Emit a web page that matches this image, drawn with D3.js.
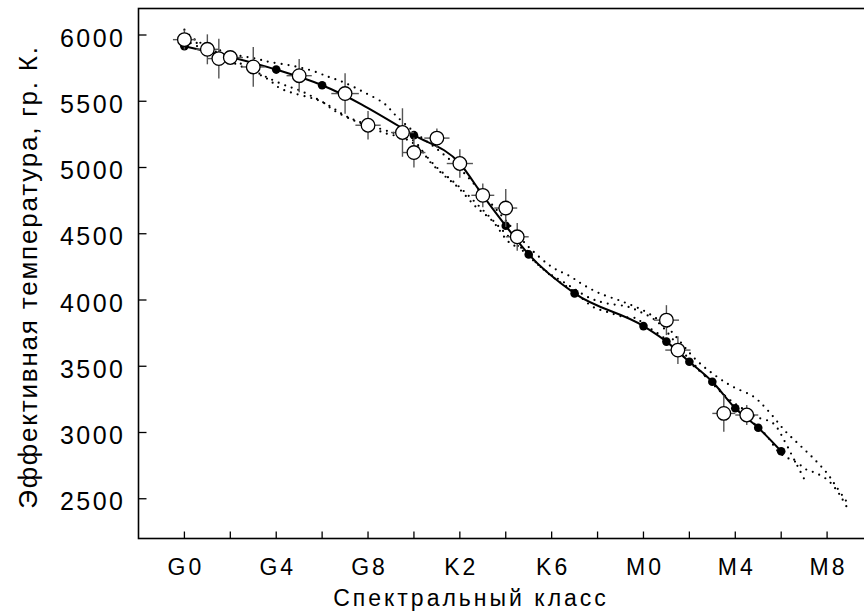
<!DOCTYPE html>
<html>
<head>
<meta charset="utf-8">
<script src="https://cdn.jsdelivr.net/npm/d3@7"></script>
<style>
  html, body { margin: 0; padding: 0; background: #fff; }
  svg { display: block; font-family: "Liberation Sans", Arial, sans-serif; }
</style>
</head>
<body>
<svg id="chart"></svg>
<script>
// spectral class ticks (units: G0 = 0, K0 = 10, M0 = 20)
const tickUnits = [0, 4, 8, 12, 16, 20, 24, 28];
const tickNames = ["G0", "G4", "G8", "K2", "K6", "M0", "M4", "M8"];
const tempTicks = [2500, 3000, 3500, 4000, 4500, 5000, 5500, 6000];

// filled dots on the solid curve
const dotX = [0, 4, 6, 10, 14, 15, 17, 20, 21, 22, 23, 24, 25, 26];
const dotT = [5915, 5739, 5621, 5244, 4560, 4344, 4050, 3803, 3686, 3534, 3383, 3183, 3036, 2858];

// solid curve knots
const curveX = [0, 4, 6, 10, 12, 13, 14, 15, 17, 20, 21, 22, 23, 24, 25, 26];
const curveT = [5915, 5739, 5621, 5244, 5030, 4790, 4560, 4344, 4050, 3803, 3686, 3534, 3383, 3183, 3036, 2858];

// open circles with error bars
const obsX = [0, 1, 1.5, 2, 3, 5, 7, 8, 9.5, 10, 11, 12, 13, 14, 14.5, 21, 21.5, 23.5, 24.5];
const obsT = [5965, 5892, 5822, 5830, 5759, 5693, 5558, 5319, 5264, 5113, 5222, 5030, 4790, 4694, 4477, 3848, 3622, 3144, 3132];
const obsErrT = [75, 113, 150, 40, 150, 125, 153, 107, 183, 113, 72, 107, 90, 143, 105, 113, 105, 138, 75];
const obsErrX = [0.5, 0.5, 0.5, 0.55, 0.5, 0.55, 0.6, 0.55, 0.5, 0.5, 0.55, 0.57, 0.5, 0.5, 0.5, 0.55, 0.55, 0.5, 0.5];

// dotted curves
const dotAX = [0, 0.5, 2, 3.1, 3.7, 4.6, 5.5, 6.3, 6.9, 7.8, 8.7, 9.2, 10, 11, 12, 13, 14, 15, 16, 16.8, 17.4, 18.1, 19.1, 20.1, 21, 22.3, 23.2, 23.9, 24.8, 25.4, 26.2, 26.8, 27.4, 28, 28.4, 28.85];
const dotAT = [6040, 5960, 5860, 5822, 5797, 5771, 5734, 5683, 5646, 5570, 5483, 5394, 5270, 5140, 4990, 4800, 4600, 4400, 4250, 4179, 4112, 4050, 3987, 3911, 3800, 3547, 3421, 3345, 3270, 3170, 3006, 2906, 2806, 2692, 2591, 2478];
const dotBX = [0, 1, 2, 2.7, 4.2, 5, 5.6, 6.4, 7.1, 8.5, 9.2, 10, 10.7, 11.3, 11.9, 12.7, 13.4, 14.2, 14.9, 15.35, 15.9, 16.5, 17.7, 18.4, 19.3, 19.85, 20.6, 21.9, 23.6, 24.2, 24.9, 25.65, 26.2, 26.5, 26.8, 27.1];
const dotBT = [5990, 5900, 5830, 5759, 5633, 5583, 5533, 5457, 5382, 5294, 5256, 5200, 5043, 4942, 4853, 4703, 4600, 4427, 4376, 4276, 4200, 4137, 4012, 3975, 3950, 3911, 3836, 3572, 3269, 3194, 3119, 3069, 2918, 2817, 2717, 2617];
const dotCX = [0, 2, 3.6, 4.2, 6, 6.5, 7.35, 7.9, 8.8, 9.4, 10, 11, 12, 13, 14, 15, 16, 17, 17.8, 18.4, 19.1, 19.7, 20, 21, 22, 23, 24, 25, 25.4, 25.95, 26.7, 27.1, 27.5, 28, 28.35, 28.6, 28.85];
const dotCT = [5960, 5800, 5671, 5595, 5495, 5432, 5357, 5319, 5256, 5231, 5180, 5000, 4850, 4680, 4500, 4330, 4180, 4060, 3948, 3911, 3874, 3861, 3820, 3700, 3530, 3380, 3190, 3040, 2968, 2843, 2771, 2720, 2695, 2645, 2580, 2516, 2440];

const W = 864, H = 613;
const plot = {left: 138.5, top: 8.5, bottom: 538.5, right: 873};

const svg = d3.select("#chart")
    .attr("width", W)
    .attr("height", H)
    .attr("viewBox", [0, 0, W, H]);

const x = d3.scaleLinear().domain([-2, 30]).range([plot.left, plot.right]);
const y = d3.scaleLinear().domain([2200, 6200]).range([plot.bottom, plot.top]);

// frame
svg.append("rect")
    .attr("x", plot.left).attr("y", plot.top)
    .attr("width", plot.right - plot.left).attr("height", plot.bottom - plot.top)
    .attr("fill", "none").attr("stroke", "#000").attr("stroke-width", 1.6);

// x axis ticks (inward) and labels
const xTicks = d3.range(0, 29, 2);
svg.append("g").selectAll("line").data(xTicks).join("line")
    .attr("x1", d => x(d)).attr("x2", d => x(d))
    .attr("y1", plot.bottom).attr("y2", plot.bottom - 7)
    .attr("stroke", "#000").attr("stroke-width", 1.3);
svg.append("g").selectAll("text").data(tickUnits).join("text")
    .attr("x", d => x(d) + 1.5).attr("y", 575)
    .attr("text-anchor", "middle")
    .style("font-size", "23px").style("letter-spacing", "3px")
    .text((d, i) => tickNames[i]);

// y axis ticks (inward) and labels
svg.append("g").selectAll("line").data(tempTicks).join("line")
    .attr("x1", plot.left).attr("x2", plot.left + 8)
    .attr("y1", d => y(d)).attr("y2", d => y(d))
    .attr("stroke", "#000").attr("stroke-width", 1.3);
svg.append("g").selectAll("text").data(tempTicks).join("text")
    .attr("x", 125.5).attr("y", d => y(d) + 11.5)
    .attr("text-anchor", "end")
    .style("font-size", "25px").style("letter-spacing", "2.5px")
    .text(d => d);

// axis titles
svg.append("text")
    .attr("x", 471).attr("y", 606)
    .attr("text-anchor", "middle")
    .style("font-size", "23px").style("letter-spacing", "3px")
    .text("Спектральный класс");
svg.append("text")
    .attr("transform", "translate(37,277) rotate(-90)")
    .attr("text-anchor", "middle")
    .style("font-size", "26px").style("letter-spacing", "1.8px")
    .text("Эффективная температура, гр. К.");

// dotted curves
const dotted = d3.line().curve(d3.curveCatmullRom.alpha(0.5))
    .x(d => x(d[0])).y(d => y(d[1]));
[[dotAX, dotAT], [dotBX, dotBT], [dotCX, dotCT]].forEach(([xs, ts]) => {
    svg.append("path")
        .datum(d3.zip(xs, ts))
        .attr("d", dotted)
        .attr("fill", "none")
        .attr("stroke", "#000")
        .attr("stroke-width", 2.2)
        .attr("stroke-linecap", "round")
        .attr("stroke-dasharray", "0,7");
});

// solid curve
const solid = d3.line().curve(d3.curveMonotoneX)
    .x(d => x(d[0])).y(d => y(d[1]));
svg.append("path")
    .datum(d3.zip(curveX, curveT))
    .attr("d", solid)
    .attr("fill", "none")
    .attr("stroke", "#000")
    .attr("stroke-width", 2);

// filled dots
svg.append("g").selectAll("circle").data(d3.zip(dotX, dotT)).join("circle")
    .attr("cx", d => x(d[0])).attr("cy", d => y(d[1]))
    .attr("r", 4.3)
    .attr("fill", "#000");

// error bars + open circles
const obs = obsX.map((v, i) => ({x: v, t: obsT[i], et: obsErrT[i], ex: obsErrX[i]}));
const eb = svg.append("g").attr("stroke", "#555").attr("stroke-width", 1.4);
eb.selectAll("line.v").data(obs).join("line").attr("class", "v")
    .attr("x1", d => x(d.x)).attr("x2", d => x(d.x))
    .attr("y1", d => y(d.t - d.et)).attr("y2", d => y(d.t + d.et));
eb.selectAll("line.h").data(obs).join("line").attr("class", "h")
    .attr("x1", d => x(d.x - d.ex)).attr("x2", d => x(d.x + d.ex))
    .attr("y1", d => y(d.t)).attr("y2", d => y(d.t));
svg.append("g").selectAll("circle").data(obs).join("circle")
    .attr("cx", d => x(d.x)).attr("cy", d => y(d.t))
    .attr("r", 6.8)
    .attr("fill", "#fff")
    .attr("stroke", "#000")
    .attr("stroke-width", 1.3);
</script>
</body>
</html>
